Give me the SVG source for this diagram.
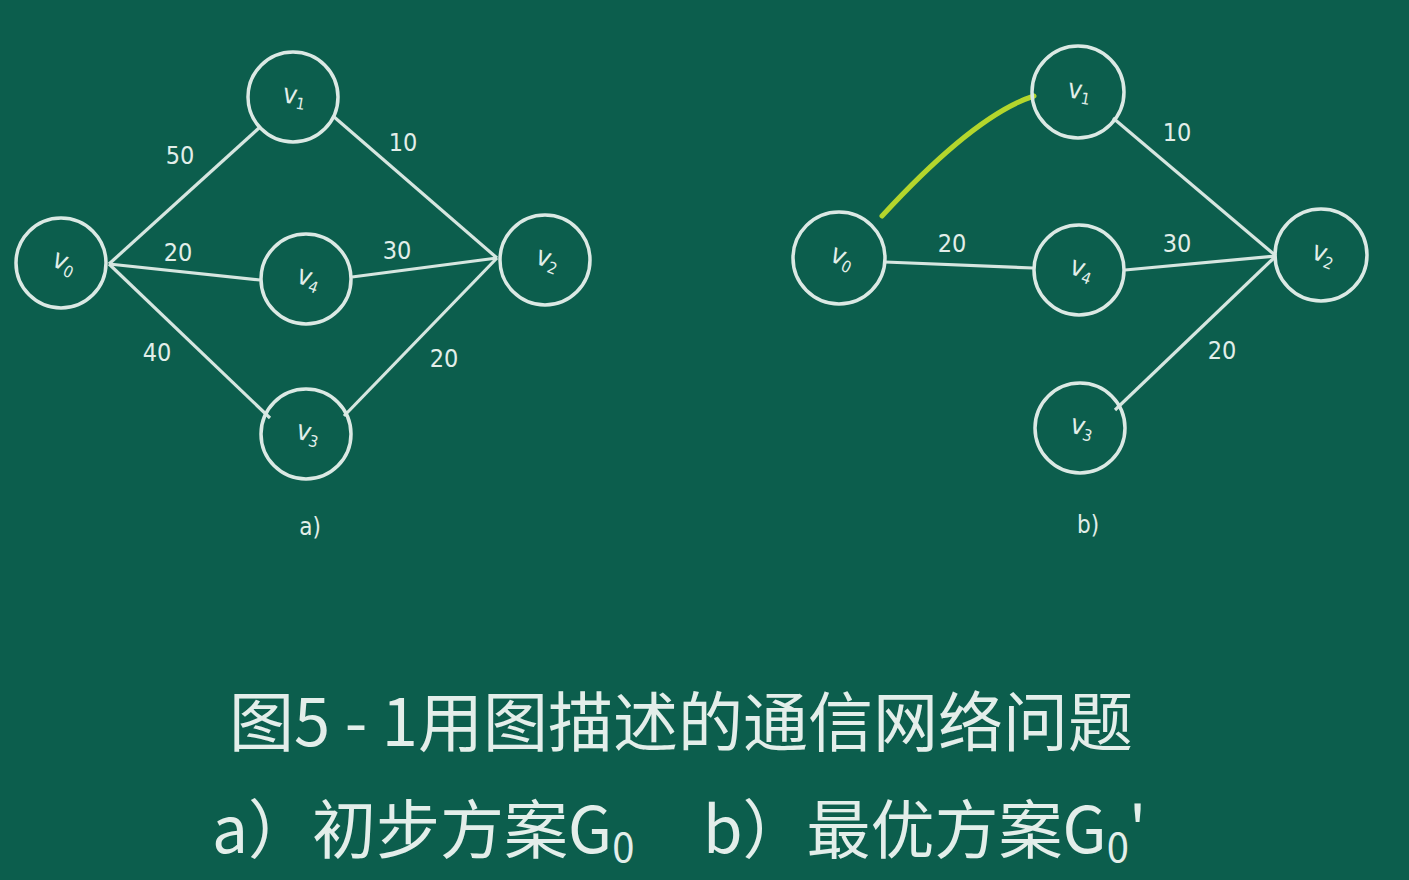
<svg xmlns="http://www.w3.org/2000/svg" width="1409" height="880" viewBox="0 0 1409 880">
<style>
.node{fill:none;stroke:#dbe9e4;stroke-width:3.5}
.edge{fill:none;stroke:#d6e6e0;stroke-width:3.2}
.hl{fill:none;stroke:#b4d62c;stroke-width:5;stroke-linecap:round}
.nl{font-family:"DejaVu Sans Condensed","DejaVu Sans",sans-serif;font-size:27px;fill:#e2eee9;text-anchor:middle}
.sub{font-size:16px}
.w{font-family:"DejaVu Sans Condensed","DejaVu Sans",sans-serif;font-size:25px;fill:#e2eee9;text-anchor:middle}
.cap{font-family:"Noto Sans CJK SC","Noto Sans",sans-serif;fill:#e3eeea}
</style>
<rect width="1409" height="880" fill="#0c5e4d"/>
<g id="connectors">
<line class="edge" x1="109" y1="264" x2="259" y2="128"/>
<line class="edge" x1="333" y1="116" x2="497" y2="258"/>
<line class="edge" x1="109" y1="264" x2="260" y2="280"/>
<line class="edge" x1="352" y1="277" x2="497" y2="258"/>
<line class="edge" x1="109" y1="264" x2="270" y2="418"/>
<line class="edge" x1="344" y1="416" x2="497" y2="258"/>
<path class="hl" d="M882 216 Q975 115 1034 96"/>
<line class="edge" x1="1113" y1="118" x2="1276" y2="256"/>
<line class="edge" x1="885" y1="262" x2="1033" y2="268"/>
<line class="edge" x1="1125" y1="270" x2="1276" y2="256"/>
<line class="edge" x1="1115" y1="410" x2="1276" y2="256"/>
</g>
<g id="labels-a">
<text class="w" x="180" y="164">50</text>
<text class="w" x="403" y="151">10</text>
<text class="w" x="178" y="261">20</text>
<text class="w" x="397" y="259">30</text>
<text class="w" x="157" y="361">40</text>
<text class="w" x="444" y="367">20</text>
<text class="w" x="310" y="535" style="font-size:24px">a)</text>
</g>
<g id="labels-b">
<text class="w" x="1177" y="141">10</text>
<text class="w" x="952" y="252">20</text>
<text class="w" x="1177" y="252">30</text>
<text class="w" x="1222" y="359">20</text>
<text class="w" x="1088" y="533" style="font-size:24px">b)</text>
</g>
<g id="a-v0"><circle class="node" cx="61" cy="263" r="45"/><text class="nl" transform="translate(61 270) rotate(25)">v<tspan class="sub" dy="4">0</tspan></text></g>
<g id="a-v1"><circle class="node" cx="293" cy="97" r="45"/><text class="nl" transform="translate(293 104) rotate(10)">v<tspan class="sub" dy="4">1</tspan></text></g>
<g id="a-v4"><circle class="node" cx="306" cy="279" r="45"/><text class="nl" transform="translate(306 286) rotate(20)">v<tspan class="sub" dy="4">4</tspan></text></g>
<g id="a-v2"><circle class="node" cx="545" cy="260" r="45"/><text class="nl" transform="translate(545 267) rotate(20)">v<tspan class="sub" dy="4">2</tspan></text></g>
<g id="a-v3"><circle class="node" cx="306" cy="434" r="45"/><text class="nl" transform="translate(306 441) rotate(15)">v<tspan class="sub" dy="4">3</tspan></text></g>
<g id="b-v0"><circle class="node" cx="839" cy="258" r="46"/><text class="nl" transform="translate(839 265) rotate(25)">v<tspan class="sub" dy="4">0</tspan></text></g>
<g id="b-v1"><circle class="node" cx="1078" cy="92" r="46"/><text class="nl" transform="translate(1078 99) rotate(10)">v<tspan class="sub" dy="4">1</tspan></text></g>
<g id="b-v4"><circle class="node" cx="1079" cy="270" r="45"/><text class="nl" transform="translate(1079 277) rotate(20)">v<tspan class="sub" dy="4">4</tspan></text></g>
<g id="b-v2"><circle class="node" cx="1321" cy="255" r="46"/><text class="nl" transform="translate(1321 262) rotate(20)">v<tspan class="sub" dy="4">2</tspan></text></g>
<g id="b-v3"><circle class="node" cx="1080" cy="428" r="45"/><text class="nl" transform="translate(1080 435) rotate(15)">v<tspan class="sub" dy="4">3</tspan></text></g>
<g id="caption">
<text class="cap" x="681" y="746" font-size="65" text-anchor="middle">图5 - 1用图描述的通信网络问题</text>
<text class="cap" x="212" y="853" font-size="64">a）初步方案G<tspan font-size="40" dy="9">0</tspan></text>
<text class="cap" x="703" y="853" font-size="64">b）最优方案G<tspan font-size="40" dy="9">0</tspan><tspan dy="-9">'</tspan></text>
</g>
</svg>
